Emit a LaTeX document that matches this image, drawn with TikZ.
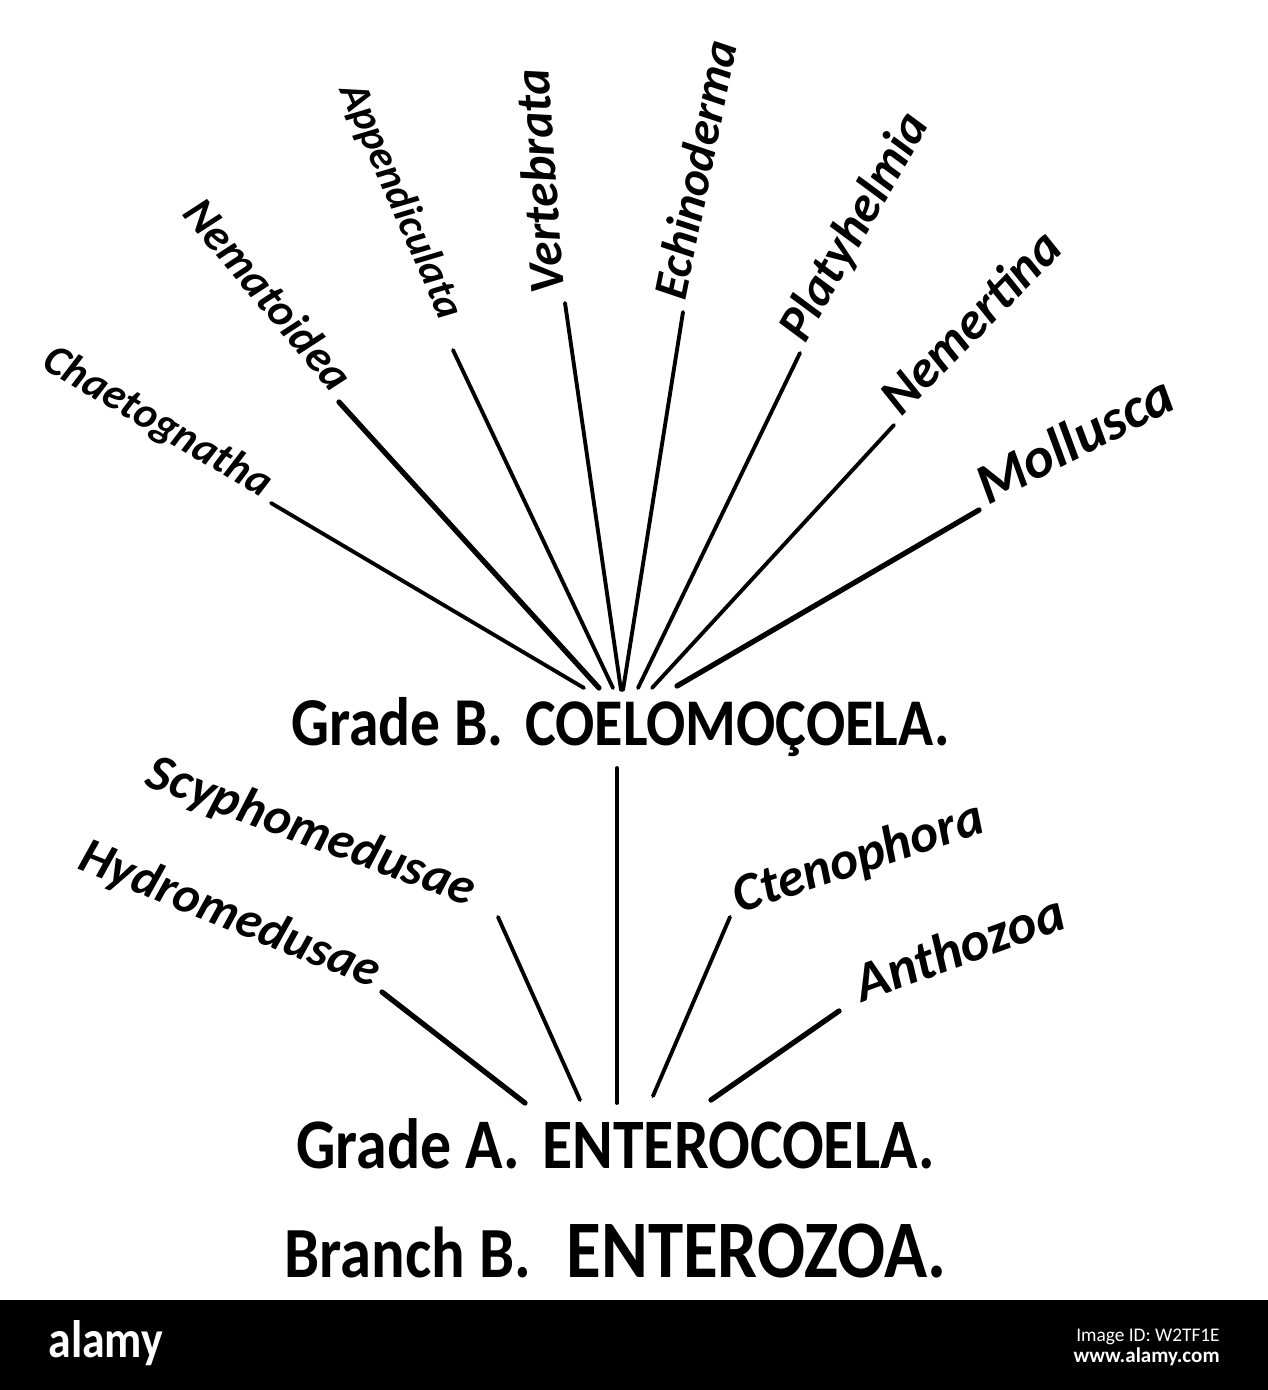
\documentclass[tikz,border=0pt]{standalone}
\usepackage{fontspec}
\setmainfont{Carlito}
\newfontfamily\headfont[FakeStretch=0.87]{Carlito}
\usetikzlibrary{positioning}

\begin{document}
\begin{tikzpicture}[
    x=0.02cm, y=-0.02cm,
    taxon/.style = {
        font=\bfseries\itshape\fontsize{#1}{#1}\selectfont,
        inner xsep=0.2cm,
        inner ysep=0pt
    },
    head/.style = {
        font=\headfont\bfseries\fontsize{#1}{#1}\selectfont,
        inner sep=0pt
    },
    branch/.style = {line width=2.2pt, line cap=round},
    heavy/.style = {branch, line width=3pt}
]

\useasboundingbox[fill=white] (0,0) rectangle (1268,1390);

%% -- Headings ---------------------------------------------------------------

\node[head=39, anchor=base west] (gradeB) at (291,745) {Grade B.};
\node[head=38, base right=0.42cm of gradeB] (coelo) {COELOMOÇOELA.};

\node[head=40.5, anchor=base west] (gradeA) at (296,1168) {Grade A.};
\node[head=40.4, base right=0.44cm of gradeA] (entero) {ENTEROCOELA.};

\node[head=41, anchor=base west] (branchB) at (284,1277) {Branch B.};
\node[head=46.5, base right=0.7cm of branchB] (enterozoa) {ENTEROZOA.};

%% -- Grade B: Coelomocoela ---------------------------------------------------

\node[taxon=24.8, rotate=-30.5, anchor=base east] (chaeto) at (271,503) {Chaetognatha};
\node[taxon=26,   rotate=-50,   anchor=base east] (nemato) at (339,402) {Nematoidea};
\node[taxon=23.8, rotate=-66.5, anchor=base east, inner xsep=0.62cm] (append) at (453,350) {Appendiculata};
\node[taxon=28.6, rotate=94,    anchor=base west] (verteb) at (565,303) {Vertebrata};
\node[taxon=27.6, rotate=78.5,  anchor=base west] (echino) at (683,312) {Echinoderma};
\node[taxon=29,   rotate=60.4,  anchor=base west] (platy)  at (800,353) {Platyhelmia};
\node[taxon=30,   rotate=45.7,  anchor=base west] (nemert) at (894,425) {Nemertina};
\node[taxon=32.5, rotate=27.2,  anchor=base west] (mollus) at (979,510) {Mollusca};

\coordinate (b1) at (584,688);
\coordinate (b2) at (599,688);
\coordinate (b3) at (613,688);
\coordinate (b4) at (621,690);
\coordinate (b5) at (623,690);
\coordinate (b6) at (638,688);
\coordinate (b7) at (652,688);
\coordinate (b8) at (677,686);

\draw[branch] (chaeto.base east) -- (b1);
\draw[heavy]  (nemato.base east) -- (b2);
\draw[branch] (append.base east) -- (b3);
\draw[branch] (verteb.base west) -- (b4);
\draw[branch] (echino.base west) -- (b5);
\draw[branch] (platy.base west)  -- (b6);
\draw[branch] (nemert.base west) -- (b7);
\draw[heavy]  (mollus.base west) -- (b8);

%% -- Stem --------------------------------------------------------------------

\coordinate (stemtop) at (617,768);
\coordinate (stembot) at (617,1103);
\draw[branch] (stemtop) -- (stembot);

%% -- Grade A: Enterocoela ----------------------------------------------------

\node[taxon=29.5, rotate=-20.4, anchor=base east, inner xsep=0.62cm] (scypho) at (498,917) {Scyphomedusae};
\node[taxon=29,   rotate=-22,   anchor=base east] (hydro)  at (382,992)  {Hydromedusae};
\node[taxon=30.5, rotate=18.4,  anchor=base west] (cteno)  at (730,917)  {Ctenophora};
\node[taxon=31.5, rotate=20,    anchor=base west, inner xsep=0.5cm] (antho) at (839,1011) {Anthozoa};

\coordinate (a1) at (525,1103);
\coordinate (a2) at (580,1100);
\coordinate (a3) at (653,1096);
\coordinate (a4) at (711,1100);

\draw[heavy]  (hydro.base east)  -- (a1);
\draw[branch] (scypho.base east) -- (a2);
\draw[branch] (cteno.base west)  -- (a3);
\draw[heavy]  (antho.base west)  -- (a4);

%% -- Footer band -------------------------------------------------------------

\fill[black] (0,1300) rectangle (1268,1390);
\node[white, font=\headfont\bfseries\fontsize{30}{30}\selectfont, anchor=base west, inner sep=0pt]
    (logo) at (48,1357) {alamy};
\node[white, font=\fontsize{11}{11}\selectfont, anchor=east, inner sep=0pt]
    (imgid) at (1220,1337) {Image ID: W2TF1E};
\node[white, font=\bfseries\fontsize{12}{12}\selectfont, anchor=east, inner sep=0pt]
    (site) at (1220,1357) {www.alamy.com};

\end{tikzpicture}
\end{document}
